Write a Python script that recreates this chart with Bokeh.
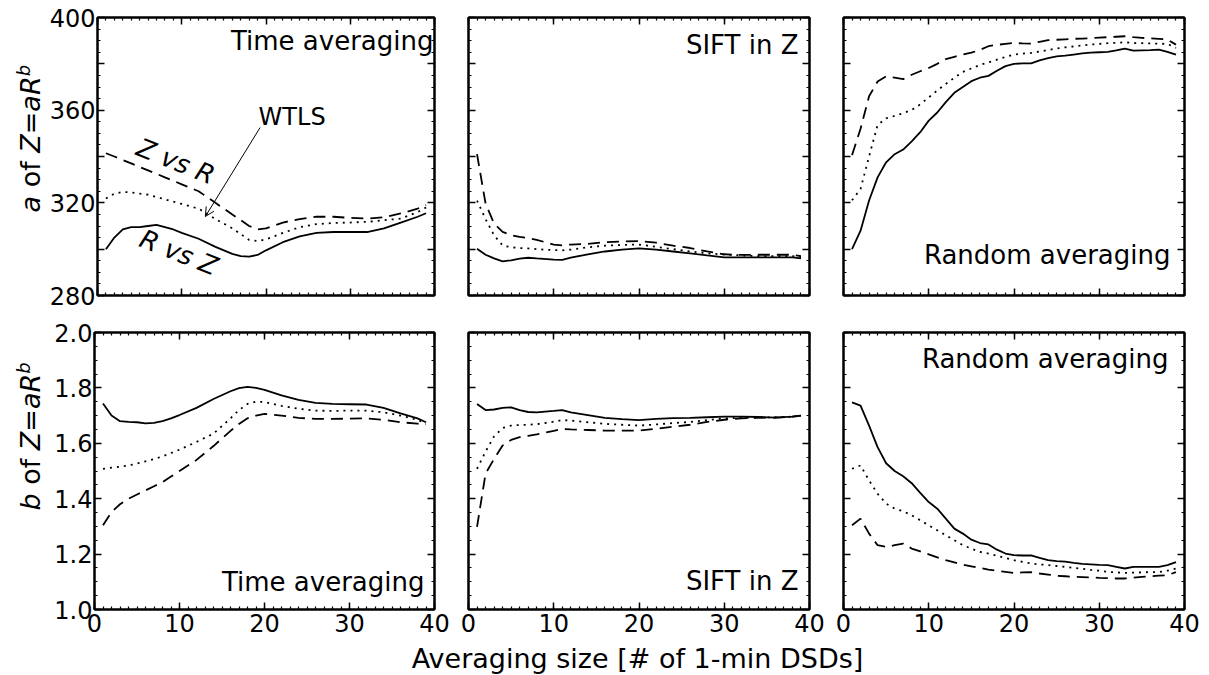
from math import pi
from bokeh.plotting import figure
from bokeh.models import (Range1d, LinearAxis, SingleIntervalTicker, Label, Arrow,
                          OpenHead, PrintfTickFormatter, CustomJSTickFormatter)
from bokeh.layouts import column, row
from bokeh.embed import file_html
from bokeh.resources import INLINE

# ---------------- data ----------------
x_time = [1, 2, 3, 4, 5, 6, 7, 8, 9, 10, 12, 14, 16, 17, 18, 19, 20, 22, 24, 26, 28, 30, 32, 34, 36, 38, 39]
a_time_rz = [300, 305, 308.5, 309.5, 309.5, 310, 310.5, 309.5, 308.5, 307, 304.5, 301, 298, 297, 296.8, 297.5,
             299.5, 303, 305.5, 307, 307.4, 307.4, 307.4, 309, 311.5, 314, 315.5]
a_time_wtls = [321.9, 324, 324.7, 324.5, 324, 323.5, 322.5, 321.5, 320.5, 319.5, 317.5, 313, 309, 306.5, 304,
               303.5, 304.2, 307, 309.5, 310.8, 311.3, 311.5, 311.8, 312.5, 313.2, 316, 318]
a_time_zr = [341.4, 340, 338.5, 337, 335.5, 334, 332.5, 331, 329.5, 328, 325, 320, 315, 312.5, 310, 308.5, 309,
             311.5, 313, 314, 314, 313.5, 313.2, 313.8, 315.4, 317.5, 319]
b_time_rz = [1.744, 1.70, 1.68, 1.677, 1.676, 1.672, 1.674, 1.68, 1.69, 1.702, 1.728, 1.76, 1.788, 1.799, 1.804,
             1.80, 1.793, 1.773, 1.757, 1.746, 1.742, 1.741, 1.74, 1.728, 1.708, 1.69, 1.676]
b_time_wtls = [1.508, 1.512, 1.515, 1.52, 1.527, 1.535, 1.543, 1.553, 1.565, 1.577, 1.605, 1.635, 1.69, 1.72,
               1.742, 1.75, 1.749, 1.735, 1.725, 1.718, 1.717, 1.718, 1.718, 1.712, 1.70, 1.685, 1.672]
b_time_zr = [1.304, 1.352, 1.38, 1.40, 1.415, 1.43, 1.445, 1.46, 1.48, 1.50, 1.54, 1.59, 1.645, 1.67, 1.69, 1.70,
             1.706, 1.70, 1.692, 1.688, 1.688, 1.689, 1.69, 1.685, 1.676, 1.671, 1.668]

x_sift = [1, 2, 3, 4, 5, 6, 7, 8, 10, 11, 12, 14, 16, 18, 20, 22, 24, 26, 28, 30, 32, 34, 36, 38, 39]
a_sift_rz = [300.2, 297.6, 296, 294.7, 295.2, 295.9, 296.3, 296, 295.5, 295.4, 296.3, 297.8, 299, 299.8, 300.3,
             299.8, 299, 298.2, 297.3, 296.5, 296.5, 296.5, 296.5, 296.5, 296]
a_sift_wtls = [321, 313, 306, 301.6, 300.8, 300.5, 300.3, 300, 299.6, 299.5, 299.8, 300.8, 301.5, 301.8, 302, 301,
               300, 299, 298.2, 297.7, 297.3, 297, 297, 297, 296.5]
a_sift_zr = [341, 319.7, 311, 307.5, 306, 305.3, 304.8, 304, 302, 301.6, 302, 302.3, 303, 303.3, 303.5, 302.8,
             301.5, 300.5, 299, 297.8, 297.5, 297.6, 297.6, 297.6, 297]
b_sift_rz = [1.742, 1.72, 1.722, 1.728, 1.73, 1.72, 1.713, 1.712, 1.717, 1.72, 1.712, 1.702, 1.692, 1.687, 1.684,
             1.688, 1.691, 1.692, 1.694, 1.696, 1.696, 1.695, 1.693, 1.696, 1.70]
b_sift_wtls = [1.508, 1.57, 1.625, 1.655, 1.664, 1.666, 1.667, 1.669, 1.678, 1.684, 1.682, 1.676, 1.67, 1.667,
               1.664, 1.668, 1.673, 1.677, 1.684, 1.69, 1.692, 1.693, 1.694, 1.696, 1.70]
b_sift_zr = [1.298, 1.49, 1.544, 1.592, 1.612, 1.622, 1.627, 1.632, 1.645, 1.652, 1.65, 1.648, 1.646, 1.646,
             1.646, 1.652, 1.66, 1.667, 1.677, 1.685, 1.69, 1.692, 1.693, 1.696, 1.70]

x_rand = list(range(1, 40))
a_rand_rz = [300, 308, 321, 331, 337.5, 341, 343, 346.5, 350.5, 355.5, 359, 363.5, 367.5, 370, 372.5, 374, 374.8,
             377, 379, 380, 380.2, 380.2, 381.5, 382.5, 383.2, 383.5, 384, 384.5, 384.8, 385, 385.2, 385.8, 386.6,
             385.7, 385.8, 385.9, 386.1, 385.2, 384]
a_rand_wtls = [321.1, 326, 340, 353.6, 356.5, 357.5, 358.7, 360.1, 362.5, 365.5, 368.5, 371.3, 374, 376.5, 378,
               379.5, 380.6, 381.8, 383, 384, 384.4, 384.7, 385.3, 386, 386.6, 387.1, 387.5, 387.9, 388.3, 388.6,
               388.9, 389.1, 389.3, 389, 388.9, 388.8, 388.7, 388.6, 386.9]
a_rand_zr = [340.6, 352, 366, 372.4, 374.6, 374, 373.4, 375.3, 376.8, 378.2, 380, 382, 383, 384, 384.8, 386,
             387.6, 388.2, 388.6, 389, 388.8, 388.7, 389.5, 390.2, 390.4, 390.6, 390.8, 390.9, 391.1, 391.3,
             391.5, 391.7, 391.9, 391.5, 391.2, 391, 390.8, 390.5, 388.3]
b_rand_rz = [1.748, 1.736, 1.664, 1.586, 1.528, 1.50, 1.481, 1.456, 1.421, 1.388, 1.364, 1.328, 1.292, 1.274,
             1.252, 1.24, 1.235, 1.216, 1.202, 1.196, 1.195, 1.195, 1.186, 1.178, 1.175, 1.173, 1.168, 1.165,
             1.163, 1.161, 1.16, 1.154, 1.148, 1.154, 1.154, 1.154, 1.154, 1.16, 1.171]
b_rand_wtls = [1.508, 1.52, 1.466, 1.418, 1.382, 1.364, 1.355, 1.34, 1.322, 1.304, 1.286, 1.268, 1.25, 1.232,
               1.22, 1.208, 1.202, 1.194, 1.186, 1.178, 1.172, 1.166, 1.163, 1.16, 1.157, 1.154, 1.15, 1.147,
               1.143, 1.14, 1.136, 1.134, 1.132, 1.133, 1.134, 1.135, 1.135, 1.14, 1.148]
b_rand_zr = [1.304, 1.328, 1.274, 1.232, 1.226, 1.232, 1.238, 1.22, 1.21, 1.199, 1.188, 1.178, 1.17, 1.162,
             1.156, 1.15, 1.144, 1.14, 1.136, 1.132, 1.134, 1.135, 1.13, 1.126, 1.122, 1.12, 1.118, 1.117, 1.116,
             1.114, 1.113, 1.112, 1.112, 1.115, 1.118, 1.12, 1.122, 1.124, 1.135]

x_ticks_interval = 10
a_range = (280, 400)
b_range = (1.0, 2.0)
a_hidden_labels = {300: "", 340: "", 380: ""}
panel_titles = ["Time averaging", "SIFT in Z", "Random averaging"]
x_title = "Averaging size [# of 1-min DSDs]"

# ---------------- styling / layout ----------------
FONT = "DejaVu Sans"
TICK_FS = "24px"
TXT_FS = "26px"
BLANK = CustomJSTickFormatter(code="return ''")

# DejaVu Sans advance widths (em) for building the composite y-titles
ADV = {"a": 0.613, "b": 0.635, "o": 0.612, "f": 0.352, "Z": 0.685, "=": 0.838, "R": 0.695, " ": 0.318}


def tw(s, size):
    return sum(ADV.get(c, 0.6) for c in s) * size


def style_axis(ax, show_labels):
    ax.axis_line_color = "black"
    ax.axis_line_width = 2
    ax.major_tick_line_color = "black"
    ax.minor_tick_line_color = "black"
    ax.major_tick_line_width = 1.5
    ax.minor_tick_line_width = 1.2
    ax.major_tick_in = 7
    ax.major_tick_out = 0
    ax.minor_tick_in = 3
    ax.minor_tick_out = 0
    ax.major_label_text_font = FONT
    ax.major_label_text_color = "black"
    ax.major_label_text_font_size = TICK_FS
    if not show_labels:
        ax.formatter = BLANK
        ax.major_label_standoff = 0


def make_fig(w, h, bl, br, bt, bb, yr, yint, ylabels, xlabels, yfmt=None, overrides=None):
    p = figure(width=w, height=h, x_range=Range1d(0, 40), y_range=Range1d(*yr),
               output_backend="svg", toolbar_location=None, x_axis_type=None, y_axis_type=None,
               min_border_left=bl, min_border_right=br, min_border_top=bt, min_border_bottom=bb)
    p.outline_line_color = "black"
    p.outline_line_width = 2
    p.background_fill_color = "white"
    p.border_fill_color = "white"
    for loc, show in (("below", xlabels), ("above", False)):
        ax = LinearAxis(ticker=SingleIntervalTicker(interval=x_ticks_interval, num_minor_ticks=10))
        style_axis(ax, show)
        if show:
            ax.major_label_standoff = 4
        p.add_layout(ax, loc)
    for loc, show in (("left", ylabels), ("right", False)):
        ax = LinearAxis(ticker=SingleIntervalTicker(interval=yint, num_minor_ticks=4))
        style_axis(ax, show)
        if show:
            if yfmt:
                ax.formatter = PrintfTickFormatter(format=yfmt)
            if overrides:
                ax.major_label_overrides = overrides
            ax.major_label_standoff = 2
        p.add_layout(ax, loc)
    return p


def blank_fig(w, h):
    p = figure(width=w, height=h, x_range=Range1d(0, 1), y_range=Range1d(0, 1),
               output_backend="svg", toolbar_location=None, x_axis_type=None, y_axis_type=None,
               min_border=0)
    p.outline_line_color = None
    p.background_fill_color = "white"
    p.border_fill_color = "white"
    return p


def add_curves(p, x, solid, dotted, dashed):
    p.line(x, solid, line_color="black", line_width=1.8)
    p.line(x, dotted, line_color="black", line_width=1.8, line_dash="2 5")
    p.line(x, dashed, line_color="black", line_width=1.8, line_dash="12 7")


def panel_text(p, text, fw, fh, top, pad_r, mid):
    y = fh - mid if top else mid
    p.add_layout(Label(x=fw - pad_r, y=y, x_units="screen", y_units="screen", text=text,
                       text_align="right", text_baseline="middle", text_font=FONT,
                       text_font_size=TXT_FS, text_color="black"))


def ytitle(p, first, y0, xm, size=27):
    pieces = [(first, True, size, 0), (" ", False, size, 0), ("of", False, size, 0), (" ", False, size, 0),
              ("Z", True, size, 0), ("=", False, size, 0), ("aR", True, size, 0), ("b", True, 18, 7)]
    y = y0
    for txt, it, sz, shift in pieces:
        if txt.strip():
            p.add_layout(Label(x=xm - shift, y=y, x_units="screen", y_units="screen", text=txt,
                               angle=pi / 2, text_align="left", text_baseline="middle",
                               text_font=FONT, text_font_size=f"{sz}px",
                               text_font_style="italic" if it else "normal", text_color="black"))
        y += tw(txt, sz)


TITLE_W = 46
TOP_H, BOT_H, XT_H = 313, 328, 33
W1, W2, W3 = 405, 375, 382
FW1, FW2, FW3 = 340, 341, 341
FH_T, FH_B = 278, 277

# top row (a)
p1 = make_fig(W1, TOP_H, 48, 17, 17, 18, a_range, 20, True, False, overrides=a_hidden_labels)
p2 = make_fig(W2, TOP_H, 17, 17, 17, 18, a_range, 20, False, False)
p3 = make_fig(W3, TOP_H, 17, 24, 17, 18, a_range, 20, False, False)
# bottom row (b)
p4 = make_fig(W1, BOT_H, 48, 17, 19, 32, b_range, 0.2, True, True, yfmt="%.1f")
p5 = make_fig(W2, BOT_H, 17, 17, 19, 32, b_range, 0.2, False, True)
p6 = make_fig(W3, BOT_H, 17, 24, 19, 32, b_range, 0.2, False, True)

add_curves(p1, x_time, a_time_rz, a_time_wtls, a_time_zr)
add_curves(p2, x_sift, a_sift_rz, a_sift_wtls, a_sift_zr)
add_curves(p3, x_rand, a_rand_rz, a_rand_wtls, a_rand_zr)
add_curves(p4, x_time, b_time_rz, b_time_wtls, b_time_zr)
add_curves(p5, x_sift, b_sift_rz, b_sift_wtls, b_sift_zr)
add_curves(p6, x_rand, b_rand_rz, b_rand_wtls, b_rand_zr)

panel_text(p1, panel_titles[0], FW1, FH_T, True, 4, 23)
panel_text(p2, panel_titles[1], FW2, FH_T, True, 11, 27)
panel_text(p3, panel_titles[2], FW3, FH_T, False, 14, 41)
panel_text(p4, panel_titles[0], FW1, FH_B, False, 10, 28)
panel_text(p5, panel_titles[1], FW2, FH_B, False, 11, 29)
panel_text(p6, panel_titles[2], FW3, FH_B, True, 16, 26)

# curve annotations in the first panel
p1.add_layout(Label(x=9.3, y=338, text="Z vs R", angle=-0.38, text_align="center", text_baseline="middle",
                    text_font=FONT, text_font_size="26px", text_font_style="italic", text_color="black"))
p1.add_layout(Label(x=9.65, y=298.6, text="R vs Z", angle=-0.38, text_align="center", text_baseline="middle",
                    text_font=FONT, text_font_size="26px", text_font_style="italic", text_color="black"))
p1.add_layout(Label(x=23.1, y=357, text="WTLS", text_align="center", text_baseline="middle",
                    text_font=FONT, text_font_size="24px", text_color="black"))
p1.add_layout(Arrow(end=OpenHead(size=9, line_width=1, line_color="black"), x_start=19.3, y_start=352.5,
                    x_end=12.8, y_end=314.1, line_width=1, line_color="black"))

# axis titles (drawn in their own blank panels)
t1 = blank_fig(TITLE_W, TOP_H)
t2 = blank_fig(TITLE_W, BOT_H)
ytitle(t1, "a", 83, 30)
ytitle(t2, "b", 99, 30)
xt = blank_fig(TITLE_W + W1 + W2 + W3, XT_H)
xt.add_layout(Label(x=637, y=16.5, x_units="screen", y_units="screen", text=x_title,
                    text_align="center", text_baseline="middle", text_font=FONT,
                    text_font_size="27px", text_color="black"))

layout = column(row(t1, p1, p2, p3), row(t2, p4, p5, p6), xt)
open("out.html", "w").write(file_html(layout, INLINE))
